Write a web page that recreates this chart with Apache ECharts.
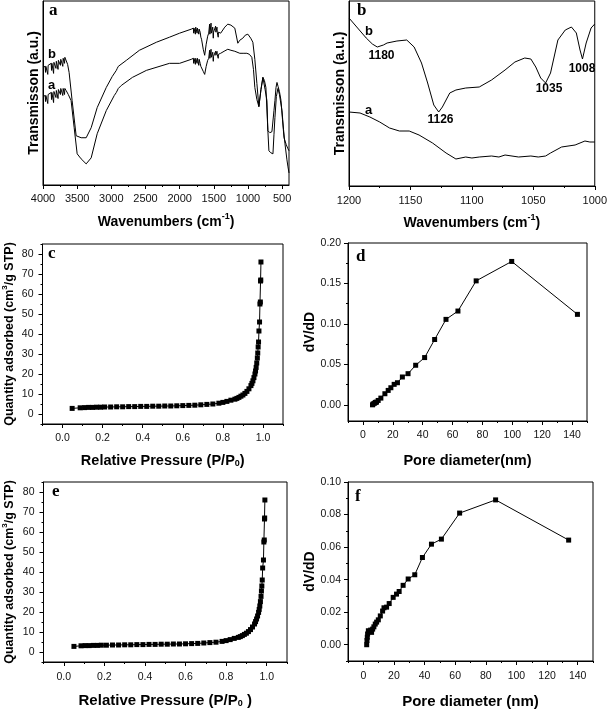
<!DOCTYPE html>
<html><head><meta charset="utf-8">
<script src="https://cdn.jsdelivr.net/npm/echarts@6/dist/echarts.min.js"></script>
<style>html,body{margin:0;padding:0;background:#fff}#c{width:610px;height:710px}</style>
</head><body><div id="c"></div>
<script>
// ---------- Panel a: FTIR (4000-400 cm-1), transmission in arbitrary units ----------
const aWaveB = [4000,3985,3968,3963,3958,3935,3930,3925,3900,3880,3875,3870,3850,3845,3840,3815,3810,3805,3785,3780,3775,3750,3745,3740,3715,3710,3705,3690,3685,3680,3662,3640,3618,3574,3515,3442,3368,3295,3207,3074,2986,2927,2913,2898,2780,2589,2340,2149,2001,1830,1800,1795,1790,1775,1770,1765,1750,1745,1740,1725,1720,1715,1700,1690,1680,1655,1634,1612,1590,1575,1566,1562,1558,1545,1541,1537,1520,1516,1512,1508,1504,1490,1478,1474,1470,1458,1454,1450,1440,1436,1432,1420,1400,1384,1340,1296,1250,1193,1149,1120,1076,1040,1002,960,929,900,870,841,810,782,760,738,709,680,650,620,606,590,576,560,540,517,495,473,440,415,400];
const aValB  = [117,117,118,112,118,119,110,119,120,121,114,121,122,111,122,123,116,123,124,115,124,125,119,125,126,118,126,127,121,127,126,120,112,84,49,47,47,57,77,97,108,114,116,118,124,134,142,147,151,155,156,151,156,157,150,157,156,151,156,156,150,155,152,147,145,135,129,140,148,151,152,160,150,151,161,151,152,157,151,146,152,153,152,158,152,152,157,152,151,147,152,153,151,152,157,160,159,156,141,144,146,149,150,146,142,125,101,78,95,107,104,97,54,52,53,74,84,97,102,98,93,84,65,47,40,36,34];
const aWaveA = [4000,3985,3968,3963,3958,3935,3930,3925,3900,3880,3875,3870,3850,3845,3840,3815,3810,3805,3785,3780,3775,3750,3745,3740,3715,3710,3705,3690,3685,3680,3662,3630,3589,3544,3500,3442,3368,3295,3207,3074,2957,2927,2910,2898,2854,2692,2487,2149,2001,1830,1800,1795,1790,1775,1770,1765,1750,1745,1740,1725,1720,1715,1700,1690,1680,1655,1634,1612,1590,1575,1566,1562,1558,1545,1541,1537,1520,1516,1512,1508,1504,1490,1478,1474,1470,1458,1454,1450,1440,1436,1432,1420,1400,1350,1296,1250,1193,1120,1060,1017,980,944,920,900,870,841,810,782,750,723,710,694,665,635,620,606,585,562,540,503,480,459,430,415,400];
const aValA  = [88,88,89,83,89,90,81,90,91,92,85,92,93,82,93,94,87,94,95,86,95,96,90,96,96,89,96,96,90,96,94,90,84,57,31,26,21,27,51,74,89,92,93,96,99,107,114,121,121,125,126,121,126,126,120,126,126,121,126,125,119,125,121,118,117,113,110,118,124,126,127,134,126,127,135,127,128,132,127,123,128,129,129,133,129,129,133,130,130,126,130,131,131,133,135,134,133,131,131,131,130,127,115,97,85,78,95,107,95,84,55,34,32,31,50,67,88,96,90,74,55,41,25,18,12];
const aTicks = [500,1000,1500,2000,2500,3000,3500,4000];
const aMinor = [750,1250,1750,2250,2750,3250,3750];

// ---------- Panel b: FTIR (1200-1000 cm-1) ----------
const bWaveB = [1200,1193,1186,1181,1177,1172,1169,1161,1153,1147,1141,1136,1131,1127,1124,1118,1113,1105,1094,1084,1073,1065,1057,1052,1048,1044,1040,1036,1030,1024,1019,1015,1012,1010,1007,1003,1000];
const bValB  = [168,158,148,142,139,141,143,145,146,139,123,103,81,74,79,93,96,98,99,106,116,124,128,127,119,108,103,113,146,156,159,153,136,127,143,158,162];
const bWaveA = [1200,1191,1183,1175,1167,1159,1151,1143,1132,1121,1113,1105,1100,1094,1084,1078,1073,1062,1052,1046,1040,1036,1027,1016,1008,1004,1000];
const bValA  = [74,73,69,64,58,55,55,51,43,33,27,29,28,29,30,29,31,29,30,29,30,33,39,41,45,44,44];
const bTicks = [1000,1050,1100,1150,1200];
const bMinor = [1025,1075,1125,1175];
const bPeakLabels = ['1180','1126','1035','1008'];

// ---------- Panel c: N2 isotherm ----------
const cP = [0.048,0.088,0.11,0.13,0.15,0.17,0.19,0.21,0.24,0.27,0.30,0.33,0.36,0.39,0.42,0.45,0.48,0.51,0.54,0.57,0.60,0.63,0.66,0.69,0.72,0.75,0.78,0.80,0.82,0.84,0.86,0.87,0.88,0.89,0.90,0.91,0.92,0.93,0.94,0.945,0.95,0.955,0.96,0.963,0.966,0.969,0.972,0.974,0.976,0.978,0.980,0.983,0.985,0.987,0.988,0.989,0.990];
const cQ = [2.8,3.1,3.2,3.3,3.3,3.4,3.4,3.5,3.5,3.6,3.6,3.7,3.7,3.8,3.8,3.9,3.9,4.0,4.0,4.1,4.2,4.3,4.4,4.6,4.8,5.0,5.4,5.8,6.3,6.9,7.4,7.8,8.3,8.9,9.5,10.3,11.3,12.6,14.2,15.3,16.6,18.2,20.0,21.5,23.3,25.5,28.0,30.5,33.5,36.0,41.5,46.0,55.0,56.0,66.5,67.0,76.0];
const isoXTicks = [0,0.2,0.4,0.6,0.8,1.0];
const isoXMinor = [-0.1,0.1,0.3,0.5,0.7,0.9,1.1];
const isoYTicks = [0,10,20,30,40,50,60,70,80];
const isoYMinor = [-5,5,15,25,35,45,55,65,75,85];

// ---------- Panel d: pore size distribution ----------
const dD = [6.4,6.9,7.8,8.4,9.1,10.2,12.0,14.7,16.9,18.7,20.9,23.1,26.4,30.2,35.3,41.3,48.0,55.6,63.6,75.8,99.6,143.6];
const dV = [0.000,0.0012,0.002,0.003,0.0033,0.0054,0.0083,0.0137,0.0178,0.0211,0.0253,0.0273,0.0344,0.0385,0.0489,0.0584,0.0807,0.1056,0.1159,0.1532,0.1772,0.1118];
const poreXTicks = [0,20,40,60,80,100,120,140];
const poreXMinor = [-10,10,30,50,70,90,110,130,150];
const dYTicks = [0,0.05,0.10,0.15,0.20];
const dYMinor = [0.025,0.075,0.125,0.175];

// ---------- Panel e: N2 isotherm ----------
const eP = [0.05,0.085,0.105,0.125,0.145,0.165,0.185,0.21,0.24,0.27,0.30,0.33,0.36,0.39,0.42,0.45,0.48,0.51,0.54,0.57,0.60,0.63,0.66,0.69,0.72,0.75,0.78,0.80,0.82,0.84,0.86,0.87,0.88,0.89,0.90,0.91,0.92,0.93,0.94,0.945,0.95,0.955,0.96,0.963,0.966,0.969,0.972,0.974,0.976,0.978,0.980,0.984,0.986,0.988,0.989,0.990,0.991];
const eQ = [2.8,3.1,3.2,3.2,3.3,3.3,3.4,3.4,3.5,3.5,3.6,3.6,3.7,3.7,3.8,3.8,3.9,3.9,4.0,4.0,4.1,4.2,4.3,4.5,4.7,4.9,5.3,5.7,6.2,6.8,7.3,7.7,8.2,8.8,9.4,10.2,11.2,12.5,14.0,15.2,16.5,18.0,19.8,21.3,23.0,25.2,27.8,30.5,33.0,36.0,42.0,46.0,55.0,56.0,66.5,67.0,76.0];

// ---------- Panel f: pore size distribution ----------
const fD = [2.2,2.4,2.6,2.8,3.3,3.7,4.8,5.4,6.1,6.9,7.8,8.7,9.8,11.1,12.6,13.5,15.2,16.9,19.5,21.7,23.4,26.0,29.3,33.6,38.6,44.5,51.0,62.9,86.4,134.1];
const fV = [0.000,0.0026,0.0046,0.0066,0.0086,0.008,0.009,0.0076,0.0096,0.011,0.0127,0.0139,0.0153,0.0177,0.0207,0.0227,0.0231,0.0253,0.0291,0.0311,0.0327,0.0365,0.0404,0.043,0.0536,0.0618,0.0649,0.0809,0.089,0.0643];
const fYTicks = [0,0.02,0.04,0.06,0.08,0.10];
const fYMinor = [-0.01,0.01,0.03,0.05,0.07,0.09];

const zip = (xs, ys) => xs.map((x, i) => [x, ys[i]]);
const SANS = '"Liberation Sans", Arial, sans-serif';
const SERIF = '"Liberation Serif", "Times New Roman", serif';

function rich(fs) {
  return {
    t: {fontSize: fs, fontWeight: 'bold', fontFamily: SANS, color: '#000', lineHeight: fs + 3, verticalAlign: 'bottom'},
    sup: {fontSize: Math.round(fs * 0.62), fontWeight: 'bold', fontFamily: SANS, color: '#000', lineHeight: 8, verticalAlign: 'top'},
    sub: {fontSize: Math.round(fs * 0.62), fontWeight: 'bold', fontFamily: SANS, color: '#000', lineHeight: 8, verticalAlign: 'bottom'}
  };
}

const grids = [
  {left: 43, top: 1, width: 246, height: 184},
  {left: 349, top: 1, width: 248, height: 185},
  {left: 42, top: 244, width: 241, height: 180},
  {left: 348, top: 243, width: 239, height: 178},
  {left: 43, top: 482, width: 244, height: 180},
  {left: 348, top: 482, width: 245, height: 182}
].map(g => Object.assign(g, {show: true, borderColor: '#000', borderWidth: 1, backgroundColor: 'transparent', containLabel: false}));

const xAxes = [], yAxes = [], series = [];

function mainAxis(gi, dim, a) {
  const has = !!a.ticks;
  return {
    type: 'value', gridIndex: gi, position: dim === 'x' ? 'bottom' : 'left', offset: 0,
    min: a.min, max: a.max, inverse: !!a.inverse,
    axisLine: {show: true, onZero: false, lineStyle: {color: '#000', width: 1}},
    axisTick: {show: has, inside: false, length: 4, customValues: a.ticks || [], lineStyle: {color: '#000', width: 1}},
    axisLabel: {show: has, customValues: a.ticks || [], formatter: a.fmt || (v => String(v)), margin: a.margin, fontSize: a.fs || 11, fontFamily: SANS, color: '#111'},
    splitLine: {show: false},
    name: a.name, nameLocation: 'middle', nameGap: a.gap, nameRotate: dim === 'y' ? 90 : 0,
    nameTextStyle: {fontFamily: SANS, fontWeight: 'bold', fontSize: a.nfs, color: '#000', rich: rich(a.nfs)}
  };
}
function minorAxis(gi, dim, a) {
  return {
    type: 'value', gridIndex: gi, position: dim === 'x' ? 'bottom' : 'left', offset: 0,
    min: a.min, max: a.max, inverse: !!a.inverse,
    axisLine: {show: false, onZero: false},
    axisTick: {show: true, inside: false, length: 2, customValues: a.minor, lineStyle: {color: '#000', width: 1}},
    axisLabel: {show: false}, splitLine: {show: false}
  };
}
function panel(gi, xa, ya) {
  const xi = xAxes.length, yi = yAxes.length;
  xAxes.push(mainAxis(gi, 'x', xa));
  yAxes.push(mainAxis(gi, 'y', ya));
  if (xa.minor) xAxes.push(minorAxis(gi, 'x', xa));
  if (ya.minor) yAxes.push(minorAxis(gi, 'y', ya));
  return {xi, yi};
}
function lineSeries(ax, data, marker) {
  return {
    type: 'line', xAxisIndex: ax.xi, yAxisIndex: ax.yi, data: data,
    symbol: marker ? 'rect' : 'none', symbolSize: 5, showSymbol: !!marker,
    lineStyle: {color: '#000', width: 1}, itemStyle: {color: '#000'},
    silent: true, animation: false
  };
}

const f2 = v => v.toFixed(2), f1 = v => v.toFixed(1);

const pa = panel(0,
  {min: 400, max: 4000, inverse: true, ticks: aTicks, minor: aMinor, margin: 8, fs: 11,
   name: '{t|Wavenumbers (cm}{sup|-1}{t|)}', gap: 27, nfs: 14},
  {min: 0, max: 183, name: '{t|Transmisson (a.u.)}', gap: 2, nfs: 14});
series.push(lineSeries(pa, zip(aWaveB, aValB)), lineSeries(pa, zip(aWaveA, aValA)));

const pb = panel(1,
  {min: 1000, max: 1200, inverse: true, ticks: bTicks, minor: bMinor, margin: 9, fs: 11,
   name: '{t|Wavenumbers (cm}{sup|-1}{t|)}', gap: 27, nfs: 14},
  {min: 0, max: 185, name: '{t|Transmisson (a.u.)}', gap: 2, nfs: 14});
series.push(lineSeries(pb, zip(bWaveB, bValB)), lineSeries(pb, zip(bWaveA, bValA)));

const pc = panel(2,
  {min: -0.1, max: 1.1, ticks: isoXTicks, minor: isoXMinor, fmt: f1, margin: 9, fs: 10.5,
   name: '{t|Relative Pressure (P/P}{sub|0}{t|)}', gap: 27, nfs: 14.5},
  {min: -5, max: 85, ticks: isoYTicks, minor: isoYMinor, margin: 9, fs: 10.5,
   name: '{t|Quantity adsorbed (cm}{sup|3}{t|/g STP)}', gap: 26, nfs: 12.5});
series.push(lineSeries(pc, zip(cP, cQ), true));

const pd = panel(3,
  {min: -10, max: 150, ticks: poreXTicks, minor: poreXMinor, margin: 9, fs: 10.5,
   name: '{t|Pore diameter(nm)}', gap: 30, nfs: 14.5},
  {min: -0.02, max: 0.20, ticks: dYTicks, minor: dYMinor, fmt: f2, margin: 7, fs: 10.5,
   name: '{t|dV/dD}', gap: 29, nfs: 14});
series.push(lineSeries(pd, zip(dD, dV), true));

const pe = panel(4,
  {min: -0.1, max: 1.1, ticks: isoXTicks, minor: isoXMinor, fmt: f1, margin: 10, fs: 10.5,
   name: '{t|Relative Pressure (P/P}{sub|0}{t| )}', gap: 28, nfs: 15},
  {min: -5, max: 85, ticks: isoYTicks, minor: isoYMinor, margin: 9, fs: 10.5,
   name: '{t|Quantity adsorbed (cm}{sup|3}{t|/g STP)}', gap: 27, nfs: 12.5});
series.push(lineSeries(pe, zip(eP, eQ), true));

const pf = panel(5,
  {min: -10, max: 150, ticks: poreXTicks, minor: poreXMinor, margin: 10, fs: 10.5,
   name: '{t|Pore diameter (nm)}', gap: 30, nfs: 15},
  {min: -0.01, max: 0.10, ticks: fYTicks, minor: fYMinor, fmt: f2, margin: 7, fs: 10.5,
   name: '{t|dV/dD}', gap: 29, nfs: 14});
series.push(lineSeries(pf, zip(fD, fV), true));

function txt(text, x, y, font, align) {
  return {type: 'text', x: x, y: y, silent: true,
    style: {text: text, font: font, fill: '#000', textAlign: align || 'left', textVerticalAlign: 'middle'}};
}
const PL = 'bold 17px ' + SERIF;
const CL = 'bold 13px ' + SANS;
const NL = 'bold 12px ' + SANS;
const graphics = [
  txt('a', 49, 11, PL), txt('b', 357, 11, PL), txt('c', 48, 254, PL),
  txt('d', 356, 257, PL), txt('e', 52, 492, PL), txt('f', 355, 497, PL),
  txt('b', 48, 54.5, CL), txt('a', 48, 85.5, CL),
  txt('b', 365, 31.5, CL), txt('a', 365, 110.5, CL),
  txt(bPeakLabels[0], 381.5, 56, NL, 'center'), txt(bPeakLabels[1], 440.5, 120, NL, 'center'),
  txt(bPeakLabels[2], 549, 89, NL, 'center'), txt(bPeakLabels[3], 582, 69, NL, 'center')
];

const chart = echarts.init(document.getElementById('c'), null, {renderer: 'canvas', width: 610, height: 710});
chart.setOption({
  animation: false,
  backgroundColor: '#fff',
  grid: grids,
  xAxis: xAxes,
  yAxis: yAxes,
  series: series,
  graphic: graphics
});
</script>
</body></html>
